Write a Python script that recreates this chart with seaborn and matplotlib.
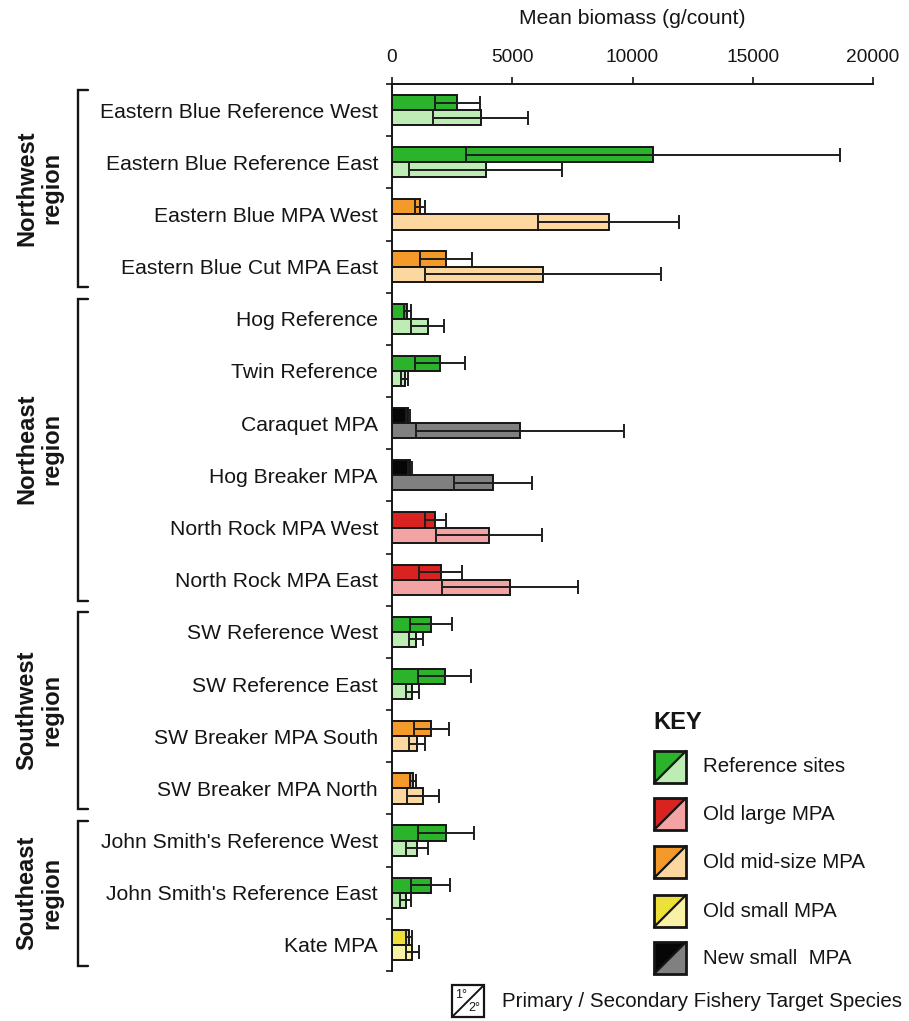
import numpy as np
import pandas as pd
import matplotlib
matplotlib.use("Agg")
import matplotlib.pyplot as plt
import matplotlib.transforms as mtransforms
from matplotlib.patches import Polygon
import seaborn as sns

# ---------------- data ----------------
sites = [
    "Eastern Blue Reference West", "Eastern Blue Reference East",
    "Eastern Blue MPA West", "Eastern Blue Cut MPA East",
    "Hog Reference", "Twin Reference", "Caraquet MPA", "Hog Breaker MPA",
    "North Rock MPA West", "North Rock MPA East",
    "SW Reference West", "SW Reference East",
    "SW Breaker MPA South", "SW Breaker MPA North",
    "John Smith's Reference West", "John Smith's Reference East", "Kate MPA",
]
site_types = [
    "ref", "ref", "mid", "mid",
    "ref", "ref", "new", "new", "large", "large",
    "ref", "ref", "mid", "mid",
    "ref", "ref", "small",
]
primary_mean = [2710, 10840, 1160, 2260, 630, 1980, 680, 755, 1800, 2020,
                1630, 2190, 1640, 870, 2250, 1620, 700]
primary_err = [935, 7775, 195, 1080, 145, 1040, 83, 90, 437, 894,
               866, 1109, 720, 140, 1164, 811, 130]
secondary_mean = [3690, 3900, 9010, 6280, 1480, 530, 5320, 4200, 4030, 4915,
                  1000, 850, 1046, 1289, 1030, 570, 852]
secondary_err = [1975, 3174, 2931, 4920, 672, 140, 4331, 1635, 2210, 2820,
                 291, 256, 340, 651, 464, 229, 256]

regions = ["Northwest\nregion", "Northeast\nregion", "Southwest\nregion", "Southeast\nregion"]
region_spans = [(0, 3), (4, 9), (10, 13), (14, 16)]

x_ticks = [0, 5000, 10000, 15000, 20000]

type_labels = ["Reference sites", "Old large MPA", "Old mid-size MPA",
               "Old small MPA", "New small  MPA"]
type_keys = ["ref", "large", "mid", "small", "new"]
type_colors = {
    "ref":   ("#2bb32b", "#bdedb5"),
    "large": ("#d82320", "#f4a3a4"),
    "mid":   ("#f39a2b", "#fdd7a0"),
    "small": ("#eee03a", "#f9f1a5"),
    "new":   ("#060606", "#808080"),
}

# ---------------- style ----------------
sns.set_style("ticks")
plt.rcParams["font.family"] = ["Liberation Sans", "DejaVu Sans"]
TXT = "#151515"
plt.rcParams["text.color"] = TXT
plt.rcParams["axes.labelcolor"] = TXT
plt.rcParams["xtick.color"] = TXT
plt.rcParams["ytick.color"] = TXT

W, H = 909, 1021
fig = plt.figure(figsize=(W / 100, H / 100), dpi=100)
ax = fig.add_axes([392 / W, 1 - 971 / H, (873 - 392) / W, (971 - 84) / H])

df = pd.DataFrame({
    "site": sites * 2,
    "tier": ["Primary"] * len(sites) + ["Secondary"] * len(sites),
    "biomass": primary_mean + secondary_mean,
})

sns.barplot(data=df, y="site", x="biomass", hue="tier", orient="h",
            order=sites, hue_order=["Primary", "Secondary"],
            width=0.58, dodge=True, errorbar=None, legend=False,
            palette=["#888888", "#cccccc"], edgecolor="#151515",
            linewidth=1.4, saturation=1, ax=ax)

# colour each bar by the site type (dark = primary, light = secondary)
for p in ax.patches:
    yc = p.get_y() + p.get_height() / 2
    idx = int(round(yc))
    tier = 0 if yc < idx else 1
    p.set_facecolor(type_colors[site_types[idx]][tier])

half = 0.58 / 4
ypos = np.arange(len(sites))
ax.errorbar(primary_mean, ypos - half, xerr=primary_err, fmt="none",
            ecolor="#1e1e1e", elinewidth=1.4, capsize=5.2, capthick=1.4, zorder=5)
ax.errorbar(secondary_mean, ypos + half, xerr=secondary_err, fmt="none",
            ecolor="#1e1e1e", elinewidth=1.4, capsize=5.2, capthick=1.4, zorder=5)

# ---------------- axes ----------------
ax.set_xlim(0, 20000)
ax.set_ylim(len(sites) - 0.5, -0.5)
ax.xaxis.tick_top()
ax.xaxis.set_label_position("top")
ax.set_xticks(x_ticks)
ax.set_xticklabels([str(t) for t in x_ticks], fontsize=13.8)
ax.tick_params(axis="x", direction="out", length=5, width=1.2, pad=8)
ax.set_xlabel("Mean biomass (g/count)", fontsize=15.2, va="center")
ax.xaxis.set_label_coords(0.5, 1 + (84 - 18) / 887)

ax.set_yticks(np.arange(len(sites) + 1) - 0.5)
ax.set_yticklabels([])
ax.set_yticks(ypos, minor=True)
ax.set_yticklabels(sites, minor=True, fontsize=15.2)
ax.tick_params(axis="y", which="major", direction="out", length=4, width=1.2)
ax.tick_params(axis="y", which="minor", length=0, pad=10)
ax.set_ylabel("")

for s in ["right", "bottom"]:
    ax.spines[s].set_visible(False)
for s in ["top", "left"]:
    ax.spines[s].set_linewidth(1.4)
    ax.spines[s].set_color("#151515")

# ---------------- region brackets ----------------
btrans = mtransforms.blended_transform_factory(fig.transFigure, ax.transData)
xv, xh = 78 / W, 88 / W
for name, (a, b) in zip(regions, region_spans):
    y0, y1 = a - 0.38, b + 0.40
    ax.plot([xh, xv, xv, xh], [y0, y0, y1, y1], transform=btrans,
            color="#151515", lw=1.7, clip_on=False, solid_joinstyle="miter")
    ax.text(39 / W, (a + b) / 2, name, transform=btrans, rotation=90,
            ha="center", va="center", fontsize=17, fontweight="bold",
            multialignment="center", linespacing=1.12)

# ---------------- key ----------------
def px(x, y):
    return (x / W, 1 - y / H)

fig.text(*px(653, 722), "KEY", fontsize=17, fontweight="bold", ha="left", va="center")
sq = 32
for key, label, yc in zip(type_keys, type_labels, [767, 814, 862, 911, 958]):
    x0, y0 = 654, yc - sq / 2
    dark, light = type_colors[key]
    bl, tl, tr, br = px(x0, y0 + sq), px(x0, y0), px(x0 + sq, y0), px(x0 + sq, y0 + sq)
    fig.patches.append(Polygon([bl, tl, tr], closed=True, transform=fig.transFigure,
                               facecolor=dark, edgecolor="none"))
    fig.patches.append(Polygon([bl, tr, br], closed=True, transform=fig.transFigure,
                               facecolor=light, edgecolor="none"))
    fig.lines.append(plt.Line2D([bl[0], tr[0]], [bl[1], tr[1]], transform=fig.transFigure,
                                color="#151515", lw=1.6))
    fig.patches.append(Polygon([bl, tl, tr, br], closed=True, transform=fig.transFigure,
                               facecolor="none", edgecolor="#151515", lw=2.0))
    fig.text(*px(703, yc), label, fontsize=14.8, ha="left", va="center")

# primary / secondary marker
bx0, by0, bs = 452, 985, 32
bbl, btl, btr, bbr = px(bx0, by0 + bs), px(bx0, by0), px(bx0 + bs, by0), px(bx0 + bs, by0 + bs)
fig.patches.append(Polygon([bbl, btl, btr, bbr], closed=True, transform=fig.transFigure,
                           facecolor="white", edgecolor="#151515", lw=1.6))
fig.lines.append(plt.Line2D([bbl[0], btr[0]], [bbl[1], btr[1]], transform=fig.transFigure,
                            color="#151515", lw=1.4))
fig.text(*px(bx0 + 9, by0 + 10), "1°", fontsize=9, ha="center", va="center")
fig.text(*px(bx0 + 22, by0 + 23), "2°", fontsize=9, ha="center", va="center")
fig.text(*px(502, 1001), "Primary / Secondary Fishery Target Species",
         fontsize=14.8, ha="left", va="center")

fig.savefig("out.png", dpi=100, facecolor="white")
